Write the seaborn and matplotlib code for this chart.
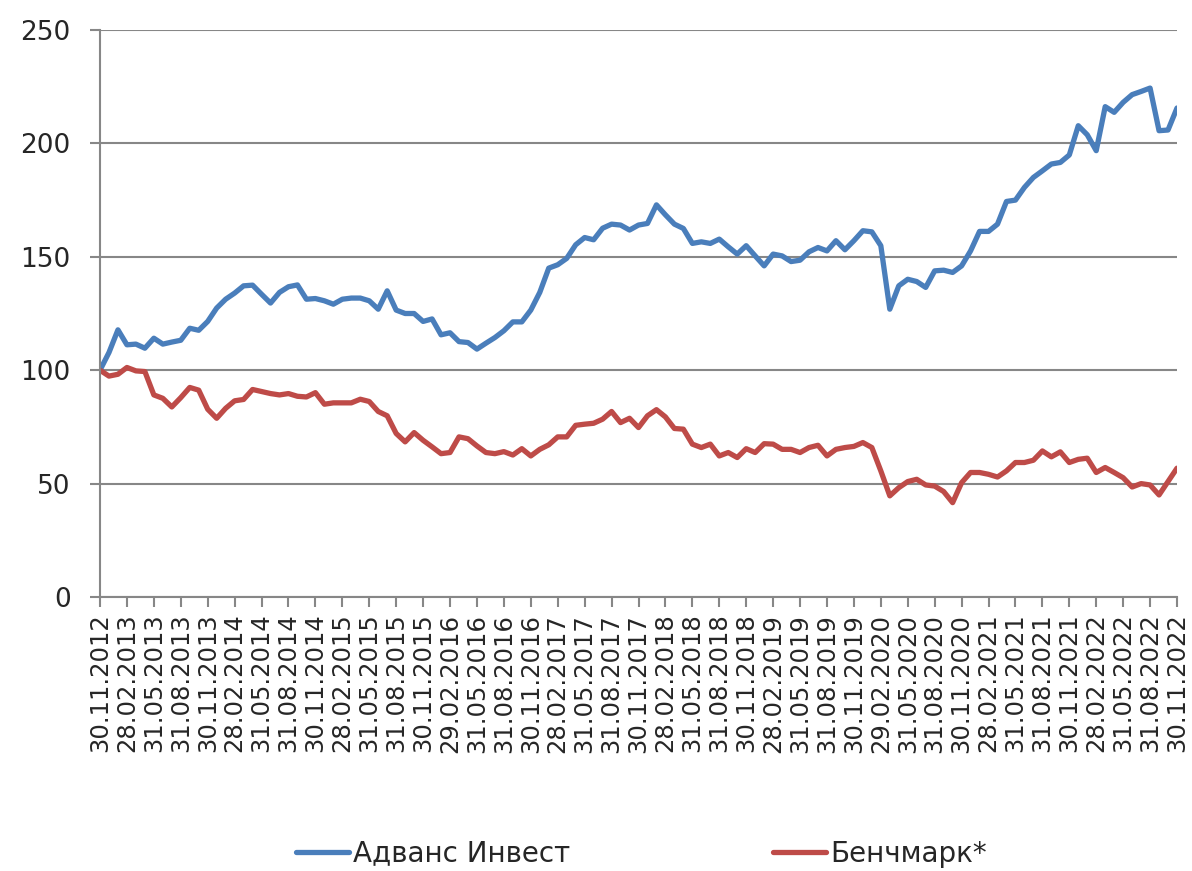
import matplotlib
matplotlib.use("Agg")
import matplotlib.pyplot as plt
import seaborn as sns
import pandas as pd
import numpy as np

series_names = ["Адванс Инвест", "Бенчмарк*"]

advance = [100, 107.8, 117.8, 111.2, 111.5, 109.7, 114.1, 111.5, 112.4, 113.2,
           118.5, 117.6, 121.5, 127.4, 131.3, 134, 137.2, 137.5, 133.5, 129.6,
           134.3, 136.8, 137.6, 131.3, 131.6, 130.6, 129.1, 131.3, 131.8, 131.8,
           130.6, 126.9, 135, 126.5, 125, 125, 121.5, 122.6, 115.6, 116.5,
           112.6, 112.2, 109.3, 111.9, 114.4, 117.4, 121.3, 121.3, 126.5, 134.3,
           145, 146.5, 149.3, 155.3, 158.5, 157.5, 162.6, 164.4, 164, 161.8,
           164, 164.7, 172.9, 168.5, 164.4, 162.5, 155.9, 156.6, 155.9, 157.8,
           154.4, 151.2, 154.9, 150.4, 146, 151.2, 150.4, 147.9, 148.5, 152.2,
           154.1, 152.6, 157.1, 153.1, 157.1, 161.5, 161, 154.9, 126.9, 137.2,
           140.1, 139.1, 136.5, 143.8, 144.1, 143.1, 146, 152.6, 161.2, 161.2,
           164.4, 174.4, 175, 180.6, 185, 187.9, 190.9, 191.6, 194.9, 207.8,
           203.8, 196.8, 216.2, 213.7, 218.1, 221.5, 222.9, 224.4, 205.6, 205.9,
           215.6]

benchmark = [100, 97.4, 98.2, 101.2, 99.7, 99.4, 89.1, 87.6, 83.8, 87.9,
             92.4, 91.2, 82.8, 78.8, 83.2, 86.5, 87.1, 91.5, 90.6, 89.7,
             89.1, 89.7, 88.5, 88.2, 90.1, 85, 85.6, 85.6, 85.6, 87.2,
             86.2, 81.8, 79.9, 72.1, 68.4, 72.5, 69.1, 66.2, 63.2, 63.7,
             70.6, 69.8, 66.6, 63.7, 63.2, 64.1, 62.6, 65.4, 62.2, 65.1,
             67.1, 70.6, 70.6, 75.7, 76.2, 76.6, 78.4, 81.8, 76.9, 78.8,
             74.7, 79.9, 82.6, 79.4, 74.3, 74, 67.4, 65.9, 67.4, 62.2,
             63.7, 61.5, 65.4, 63.7, 67.6, 67.4, 65.1, 65.1, 63.7, 65.9,
             66.9, 62.2, 65.1, 65.9, 66.4, 68.1, 65.9, 55.6, 44.6, 48.2,
             50.9, 51.9, 49.4, 48.9, 46.5, 41.6, 50.4, 54.9, 54.9, 54.1,
             52.9, 55.6, 59.3, 59.3, 60.3, 64.4, 61.8, 64, 59.3, 60.7,
             61.2, 54.9, 57.1, 54.9, 52.6, 48.5, 50, 49.4, 45, 50.9,
             56.8]

tick_labels = ["30.11.2012", "28.02.2013", "31.05.2013", "31.08.2013", "30.11.2013",
               "28.02.2014", "31.05.2014", "31.08.2014", "30.11.2014", "28.02.2015",
               "31.05.2015", "31.08.2015", "30.11.2015", "29.02.2016", "31.05.2016",
               "31.08.2016", "30.11.2016", "28.02.2017", "31.05.2017", "31.08.2017",
               "30.11.2017", "28.02.2018", "31.05.2018", "31.08.2018", "30.11.2018",
               "28.02.2019", "31.05.2019", "31.08.2019", "30.11.2019", "29.02.2020",
               "31.05.2020", "31.08.2020", "30.11.2020", "28.02.2021", "31.05.2021",
               "31.08.2021", "30.11.2021", "28.02.2022", "31.05.2022", "31.08.2022",
               "30.11.2022"]

y_ticks = [0, 50, 100, 150, 200, 250]

colors = {"Адванс Инвест": "#4A7EBB", "Бенчмарк*": "#BE4B48"}

n = len(advance)
df = pd.DataFrame({
    "idx": list(range(n)) * 2,
    "value": advance + benchmark,
    "series": [series_names[0]] * n + [series_names[1]] * n,
})

sns.set_style("white")
plt.rcParams["font.family"] = ["DejaVu Sans"]

fig = plt.figure(figsize=(11.92, 8.71), dpi=100)
ax = fig.add_axes([100 / 1192, 1 - 597 / 871, (1177 - 100) / 1192, (597 - 30) / 871])

sns.lineplot(data=df, x="idx", y="value", hue="series", palette=colors,
             linewidth=3.8, ax=ax, legend=False)

grid_c = "#878787"
ax.set_xlim(0, n - 1)
ax.set_ylim(0, 250)
ax.set_yticks(y_ticks)
ax.set_yticklabels([str(v) for v in y_ticks], fontsize=19)
ax.yaxis.grid(True, color=grid_c, linewidth=1.5)
ax.xaxis.grid(False)
ax.set_axisbelow(True)

tick_pos = list(range(0, n, 3))
ax.set_xticks(tick_pos)
ax.set_xticklabels(tick_labels, rotation=90, fontsize=17.5, va="top", ha="center")

ax.tick_params(axis="y", which="both", length=7, width=1.5, color=grid_c, pad=14, left=True)
ax.tick_params(axis="x", which="both", length=7, width=1.5, color=grid_c, pad=5, bottom=True)

for side in ["top", "right"]:
    ax.spines[side].set_visible(False)
for side in ["left", "bottom"]:
    ax.spines[side].set_color(grid_c)
    ax.spines[side].set_linewidth(1.5)

ax.set_xlabel("")
ax.set_ylabel("")

handles = ax.get_lines()[:2]
fig.legend(handles, series_names, loc="center", bbox_to_anchor=(0.538, 0.02), ncol=2,
           frameon=False, fontsize=20, handlelength=1.9, handletextpad=0.15,
           columnspacing=7.3)

fig.savefig("out.png", dpi=100)
